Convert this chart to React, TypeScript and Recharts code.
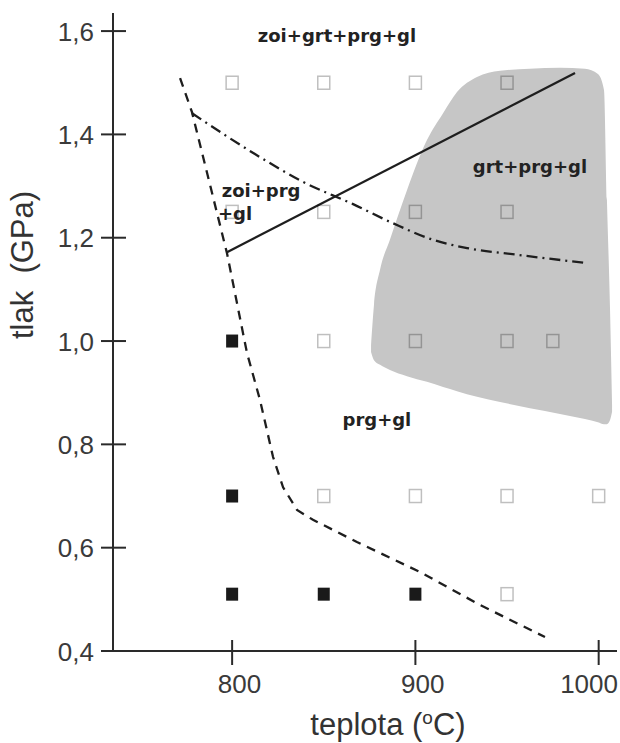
import React from "react";
import {
  ComposedChart,
  Area,
  Line,
  Scatter,
  XAxis,
  YAxis,
} from "recharts";

// teplota (°C) / tlak (GPa)
const xTicks = [800, 900, 1000];
const yTicks = [0.4, 0.6, 0.8, 1.0, 1.2, 1.4, 1.6];

// experimenty: plné = zoi přítomen, prázdné = bez zoi
const filledT = [800, 800, 800, 850, 900];
const filledP = [1.0, 0.7, 0.51, 0.51, 0.51];

const openT = [800, 850, 900, 950, 800, 850, 900, 950, 850, 900, 950, 975, 850, 900, 950, 1000, 950];
const openP = [1.5, 1.5, 1.5, 1.5, 1.25, 1.25, 1.25, 1.25, 1.0, 1.0, 1.0, 1.0, 0.7, 0.7, 0.7, 0.7, 0.51];

// zoi-out (čárkovaná)
const dashedT = [771.6, 778.1, 797.2, 808.1, 815.2, 822.3, 827.8, 835.4, 844.1, 868.1, 902.5, 935.3, 970.7];
const dashedP = [1.509, 1.443, 1.17, 0.977, 0.886, 0.776, 0.717, 0.673, 0.654, 0.611, 0.553, 0.489, 0.427];

// čerchovaná
const dashDotT = [778.1, 815.2, 838.7, 866.0, 887.8, 909.6, 928.2, 955.4, 993.6];
const dashDotP = [1.441, 1.356, 1.308, 1.265, 1.228, 1.196, 1.18, 1.167, 1.151];

// plná čára
const solidT = [797.2, 987.1];
const solidP = [1.172, 1.519];

// pole grt+prg+gl
const shadeT = [875.8, 877.4, 880.7, 886.1, 895.4, 906.3, 915.1, 922.7, 933.6, 946.2, 962.5, 978.9, 992.5, 999.6, 1002.9, 1004.5, 1006.2, 1007.3];
const shadeLow = [0.979, 0.963, 0.954, 0.944, 0.932, 0.921, 0.911, 0.903, 0.892, 0.882, 0.87, 0.859, 0.849, 0.843, 0.839, 0.839, 0.847, 0.863];
const shadeHigh = [0.992, 1.07, 1.138, 1.196, 1.292, 1.389, 1.441, 1.482, 1.511, 1.523, 1.527, 1.529, 1.527, 1.517, 1.486, 1.273, 1.06, 0.876];

const regionNames = ["zoi+grt+prg+gl", "zoi+prg", "+gl", "grt+prg+gl", "prg+gl"];
const regionT = [857.2, 815.8, 801.6, 962.5, 879.0];
const regionP = [1.579, 1.279, 1.234, 1.325, 0.836];

const pts = (t: number[], p: number[]) => t.map((x, i) => ({ x, y: p[i] }));

const shadeRows = shadeT.map((x, i) => ({ x, range: [shadeLow[i], shadeHigh[i]] }));
const regionRows = regionT.map((x, i) => ({ x, y: regionP[i], name: regionNames[i] }));

const AXIS = "#2a2a2a";
const TICK_FONT = "'Liberation Sans', Arial, sans-serif";

function YTick({ x, y, payload }: any) {
  return (
    <g>
      <line x1={x - 12} x2={x + 13} y1={y} y2={y} stroke={AXIS} strokeWidth={2} />
      <text x={x - 19} y={y + 9.5} textAnchor="end" fontSize={26} fill="#3a3a3a" fontFamily={TICK_FONT}>
        {payload.value.toFixed(1).replace(".", ",")}
      </text>
    </g>
  );
}

function XTick({ x, y, payload }: any) {
  // poslední popisek je v originále posunut doleva, aby se vešel
  const right = Math.min(x + 29, 618);
  return (
    <g>
      <line x1={x} x2={x} y1={y - 11} y2={y + 14} stroke={AXIS} strokeWidth={2} />
      <text x={right} y={y + 42} textAnchor="end" fontSize={26} fill="#3a3a3a" fontFamily={TICK_FONT}>
        {payload.value}
      </text>
    </g>
  );
}

function OpenSquare({ cx, cy }: any) {
  return <rect x={cx - 6} y={cy - 6.5} width={12} height={13} fill="none" stroke="rgba(0,0,0,0.25)" strokeWidth={1.5} />;
}

function FilledSquare({ cx, cy }: any) {
  return <rect x={cx - 6} y={cy - 6.5} width={12} height={13} fill="#1a1a1a" />;
}

function RegionLabel(props: any) {
  const name = props.payload?.name ?? props.name;
  return (
    <text x={props.cx} y={props.cy} textAnchor="middle" fontSize={18} fontWeight="bold" fill="#222" fontFamily="'DejaVu Sans', sans-serif">
      {name}
    </text>
  );
}

function XTitle({ viewBox }: any) {
  return (
    <text x={viewBox.x + 275} y={viewBox.y + 84} textAnchor="middle" fontSize={31} fill="#333" fontFamily={TICK_FONT}>
      teplota (
      <tspan fontSize={19} dy={-11}>o</tspan>
      <tspan dy={11}>C)</tspan>
    </text>
  );
}

function YTitle() {
  return (
    <text
      x={33}
      y={265}
      transform="rotate(-90 33 265)"
      textAnchor="middle"
      fontSize={31}
      fill="#333"
      fontFamily={TICK_FONT}
      style={{ whiteSpace: "pre" }}
    >
      {"tlak  (GPa)"}
    </text>
  );
}

export default function App() {
  return (
    <div style={{ position: "absolute", left: 0, top: 0, background: "#fff" }}>
      <ComposedChart width={620} height={743} data={shadeRows} margin={{ top: 13, right: 3, bottom: 0, left: 0 }}>
        <XAxis
          dataKey="x"
          type="number"
          domain={[735, 1010]}
          allowDataOverflow
          ticks={xTicks}
          height={92}
          tickSize={0}
          tickMargin={0}
          tickLine={false}
          axisLine={{ stroke: AXIS, strokeWidth: 2 }}
          tick={<XTick />}
          label={<XTitle />}
        />
        <YAxis
          type="number"
          domain={[0.4, 1.635]}
          allowDataOverflow
          ticks={yTicks}
          width={113}
          tickSize={0}
          tickMargin={0}
          tickLine={false}
          axisLine={{ stroke: AXIS, strokeWidth: 2 }}
          tick={<YTick />}
          label={<YTitle />}
        />
        <Area
          dataKey="range"
          type="monotone"
          fill="#c6c6c6"
          fillOpacity={1}
          stroke="none"
          dot={false}
          activeDot={false}
          isAnimationActive={false}
        />
        <Scatter data={pts(openT, openP)} dataKey="y" shape={<OpenSquare />} isAnimationActive={false} />
        <Line data={pts(solidT, solidP)} dataKey="y" type="linear" stroke="#1e1e1e" strokeWidth={2.3} dot={false} activeDot={false} isAnimationActive={false} />
        <Line data={pts(dashDotT, dashDotP)} dataKey="y" type="monotone" stroke="#1e1e1e" strokeWidth={2.3} strokeDasharray="11 5 2 5" dot={false} activeDot={false} isAnimationActive={false} />
        <Line data={pts(dashedT, dashedP)} dataKey="y" type="linear" stroke="#1e1e1e" strokeWidth={2.3} strokeDasharray="9 7" dot={false} activeDot={false} isAnimationActive={false} />
        <Scatter data={pts(filledT, filledP)} dataKey="y" shape={<FilledSquare />} isAnimationActive={false} />
        <Scatter data={regionRows} dataKey="y" shape={<RegionLabel />} isAnimationActive={false} />
      </ComposedChart>
    </div>
  );
}
